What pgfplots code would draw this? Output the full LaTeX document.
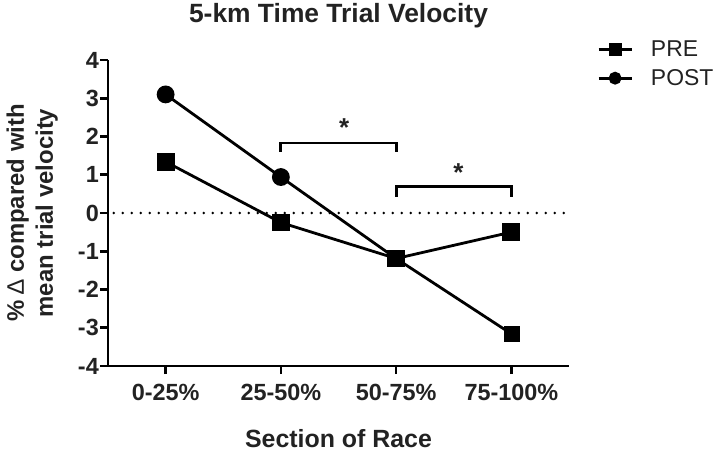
\documentclass[border=0pt]{standalone}
\usepackage{fontspec}
\setmainfont{Liberation Sans}
\usepackage{pgfplots}
\pgfplotsset{compat=1.18}
\definecolor{txt}{HTML}{222222}
\begin{document}
\begin{tikzpicture}
\useasboundingbox (-108bp,-86bp) rectangle (612bp,366bp);
\begin{axis}[
  scale only axis, width=461bp, height=306bp,
  xmin=-0.5, xmax=3.5, ymin=-4, ymax=4,
  axis x line*=bottom, axis y line*=left,
  axis line style={line width=2.7bp, -},
  xtick={0,1,2,3}, xticklabels={0-25\%,25-50\%,50-75\%,75-100\%},
  ytick={-4,-3,-2,-1,0,1,2,3,4},
  tick align=outside, major tick length=8bp,
  tick style={line width=2.7bp, black},
  /pgf/number format/assume math mode=true,
  ticklabel style={font=\bfseries\fontsize{23.5}{27}\selectfont, text=txt},
  xticklabel style={anchor=base, yshift=-26bp},
  yticklabel style={anchor=east, inner sep=0pt, xshift=-1bp},
  title={5-km Time Trial Velocity},
  title style={font=\bfseries\fontsize{26.5}{30}\selectfont, text=txt, at={(axis description cs:0.5,1)}, anchor=base, yshift=32bp},
  xlabel={Section of Race},
  xlabel style={font=\bfseries\fontsize{25}{30}\selectfont, text=txt, at={(axis description cs:0.5,0)}, anchor=base, yshift=-81bp},
  ylabel={\% {\mdseries ∆} compared with\\mean trial velocity},
  ylabel style={font=\bfseries\fontsize{24}{29}\selectfont, text=txt, align=center, at={(axis description cs:-0.1085,0.5)}, anchor=south, inner sep=0pt, rotate=0},
  legend style={at={(axis description cs:1,1)}, anchor=north west, xshift=28bp, yshift=21bp, draw=none, fill=none, font=\fontsize{23}{27}\selectfont, text=txt, row sep=7bp, column sep=16bp, inner sep=0pt},
  legend cell align=left,
  legend image code/.code={\draw[#1, mark indices={2}, mark size=5bp] plot coordinates {(0bp,0bp) (16.5bp,0bp) (33bp,0bp)};},
  clip=false,
]
\addplot[black, line width=2.7bp, dash pattern=on 0pt off 9bp, line cap=round, forget plot] coordinates {(-0.45,0) (3.5,0)};
\addplot[black, line width=2.8bp, mark=square*, mark size=7.5bp, mark options={solid}] coordinates {(0,1.34) (1,-0.25) (2,-1.19) (3,-0.50)};
\addlegendentry{PRE}
\addplot[black, line width=2.8bp, mark=*, mark size=7.5bp, mark indices={1,2}, mark options={solid}] coordinates {(0,3.10) (1,0.94) (2,-1.19) (3,-3.16)};
\addlegendentry{POST}
\addplot[black, only marks, mark=square*, mark size=7.5bp, forget plot] coordinates {(2,-1.19) (3,-3.16)};
\draw[line width=2.8bp, black] (axis cs:1,1.60) -- (axis cs:1,1.83) -- (axis cs:2,1.83) -- (axis cs:2,1.60);
\draw[line width=2.8bp, black] (axis cs:2,0.43) -- (axis cs:2,0.69) -- (axis cs:3,0.69) -- (axis cs:3,0.43);
\node[anchor=base, font=\bfseries\fontsize{26}{30}\selectfont, text=txt, inner sep=0pt] at (axis cs:1.55,1.99) {*};
\node[anchor=base, font=\bfseries\fontsize{26}{30}\selectfont, text=txt, inner sep=0pt] at (axis cs:2.54,0.82) {*};
\end{axis}
\end{tikzpicture}
\end{document}
